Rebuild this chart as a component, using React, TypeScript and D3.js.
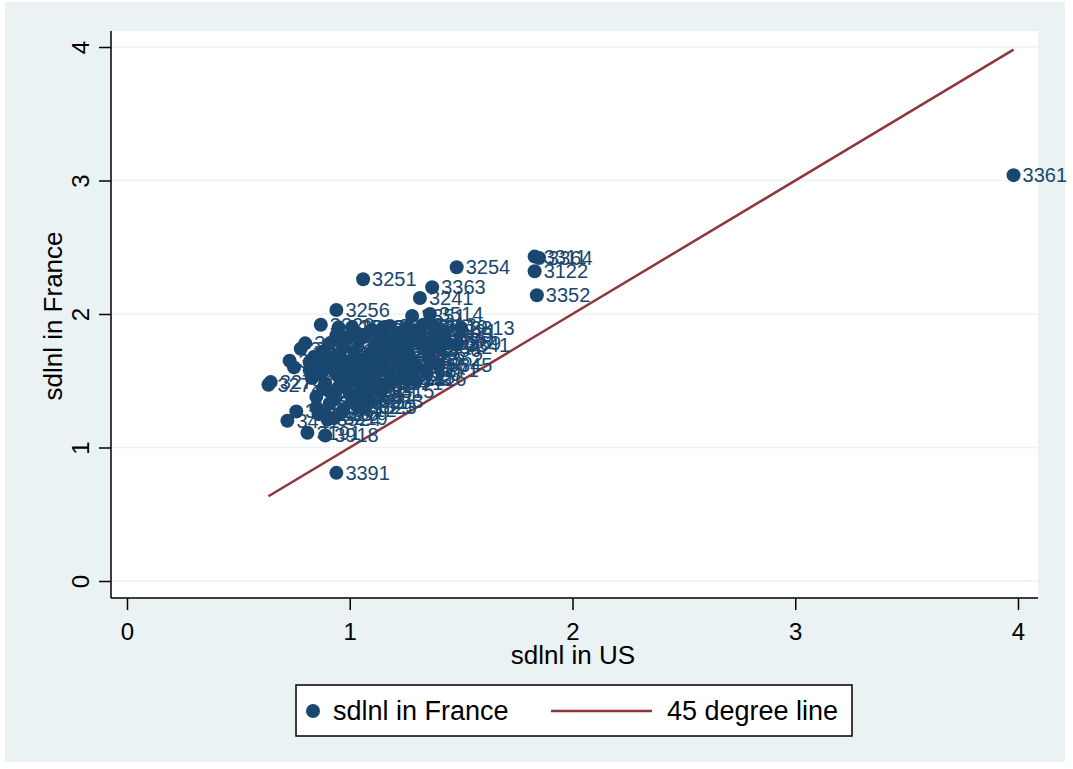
import React from 'react';
import * as d3 from 'd3';

// industry codes, sd of log wages in US and in France
const codes = [
  '3211', '3215', '3212', '3214', '3220', '3259', '3252', '3231', '3242', '3232',
  '3140', '3131', '3132', '3133', '3134', '3111', '3112', '3113', '3114', '3117',
  '3118', '3119', '3121', '3243', '3253', '3255', '3257', '3258', '3261', '3262',
  '3271', '3273', '3275', '3276', '3281', '3282', '3312', '3314', '3315', '3319',
  '3321', '3322', '3323', '3324', '3325', '3326', '3327', '3328', '3331', '3332',
  '3343', '3344', '3345', '3346', '3353', '3354', '3355', '3356', '3359', '3365',
  '3369', '3362', '3845', '3371', '3372', '3381', '3382', '3383', '3384', '3385',
  '3390', '3413', '3421', '3422', '3511', '3512', '3513', '3521', '3522', '3523',
  '3529', '3530', '3540', '3551', '3559', '3560', '3610', '3620', '3691', '3692',
  '3699', '3710', '3720', '3811', '3813', '3819', '3821', '3823', '3213', '3233',
  '3219', '3812', '3419', '3411', '3412', '3115', '3116', '3342', '3272', '3274',
  '3191', '3918', '3524', '3329', '3391', '3256', '3241', '3351', '3514', '3313',
  '3341', '3251', '3363', '3254', '3352', '3122', '3311', '3364', '3361',
];

const sdUS = [
  0.73, 0.75, 0.78, 0.80, 0.87, 0.95, 1.01, 0.82, 0.83, 0.85,
  0.84, 0.86, 0.87, 0.88, 0.88, 0.90, 0.92, 0.94, 0.96, 0.98,
  1.00, 0.89, 0.91, 0.93, 0.95, 0.97, 0.99, 1.01, 1.03, 1.05,
  1.07, 1.09, 1.02, 1.04, 1.06, 1.08, 1.10, 1.12, 1.14, 1.11,
  1.13, 1.15, 1.17, 1.19, 1.16, 1.18, 1.20, 1.22, 1.24, 1.21,
  1.23, 1.25, 1.27, 1.29, 1.26, 1.28, 1.32, 1.35, 1.37, 1.40,
  1.44, 1.36, 1.40, 1.34, 1.01, 1.05, 0.99, 0.96, 0.93, 0.91,
  0.94, 0.98, 1.03, 1.07, 1.12, 1.09, 1.14, 1.18, 1.22, 1.26,
  0.82, 1.00, 1.04, 1.08, 1.12, 1.16, 0.95, 0.89, 1.10, 1.15,
  1.18, 1.22, 1.26, 1.30, 1.33, 1.38, 1.42, 1.06, 0.85, 0.86,
  0.93, 0.97, 0.91, 0.72, 0.76, 1.24, 1.29, 1.40, 0.635, 0.645,
  0.81, 0.89, 0.90, 1.04, 0.94, 0.94, 1.315, 1.28, 1.36, 1.50,
  1.48, 1.06, 1.37, 1.48, 1.84, 1.83, 1.83, 1.85, 3.98,
];

const sdFR = [
  1.65, 1.60, 1.74, 1.78, 1.92, 1.90, 1.90, 1.58, 1.52, 1.38,
  1.68, 1.62, 1.55, 1.44, 1.72, 1.66, 1.60, 1.55, 1.50, 1.45,
  1.40, 1.48, 1.42, 1.36, 1.70, 1.76, 1.64, 1.58, 1.52, 1.46,
  1.40, 1.35, 1.72, 1.80, 1.66, 1.60, 1.54, 1.48, 1.42, 1.75,
  1.69, 1.63, 1.57, 1.51, 1.82, 1.76, 1.70, 1.64, 1.58, 1.80,
  1.76, 1.72, 1.66, 1.62, 1.84, 1.80, 1.78, 1.73, 1.80, 1.84,
  1.78, 1.66, 1.62, 1.58, 1.34, 1.38, 1.56, 1.62, 1.68, 1.78,
  1.84, 1.82, 1.86, 1.84, 1.86, 1.70, 1.58, 1.48, 1.52, 1.55,
  1.64, 1.50, 1.62, 1.50, 1.62, 1.70, 1.45, 1.25, 1.88, 1.90,
  1.91, 1.86, 1.90, 1.88, 1.92, 1.90, 1.87, 1.30, 1.30, 1.25,
  1.22, 1.28, 1.33, 1.20, 1.27, 1.53, 1.51, 1.75, 1.47, 1.49,
  1.11, 1.09, 1.21, 1.30, 0.81, 2.03, 2.12, 1.985, 2.00, 1.895,
  1.77, 2.26, 2.20, 2.35, 2.14, 2.32, 2.43, 2.42, 3.04,
];

const xTicks = [0, 1, 2, 3, 4];
const yTicks = [0, 1, 2, 3, 4];

const navy = '#1a476f';
const maroon = '#90353b';
const bg = '#eaf2f3';
const font = '"Liberation Sans", Arial, Helvetica, sans-serif';

class App extends React.Component {
  constructor(props) {
    super(props);
    this.myRef = React.createRef();
  }

  componentDidMount() {
    const width = 1073;
    const height = 769;
    const svg = d3
      .select(this.myRef.current)
      .append('svg')
      .attr('width', width)
      .attr('height', height)
      .style('position', 'absolute')
      .style('left', 0)
      .style('top', 0)
      .style('font-family', font);

    svg.append('rect').attr('width', width).attr('height', height).attr('fill', '#fff');
    svg.append('rect').attr('x', 5).attr('y', 2).attr('width', 1060).attr('height', 760).attr('fill', bg);

    const left = 111;
    const right = 1038;
    const top = 31;
    const bottom = 598;
    svg.append('rect')
      .attr('x', left).attr('y', top)
      .attr('width', right - left).attr('height', bottom - top)
      .attr('fill', '#fff');

    const x = d3.scaleLinear().domain([0, 4]).range([127, 1018]);
    const y = d3.scaleLinear().domain([0, 4]).range([581, 47]);

    // gridlines
    svg.append('g')
      .selectAll('line')
      .data(yTicks)
      .enter()
      .append('line')
      .attr('x1', left).attr('x2', right)
      .attr('y1', (d) => y(d)).attr('y2', (d) => y(d))
      .style('stroke', bg)
      .style('stroke-width', 1.5);

    // 45 degree line over the range of US values
    const ext = d3.extent(sdUS);
    svg.append('line')
      .attr('x1', x(ext[0])).attr('y1', y(ext[0]))
      .attr('x2', x(ext[1])).attr('y2', y(ext[1]))
      .style('stroke', maroon)
      .style('stroke-width', 2.5);

    // points with labels
    const pts = svg.append('g');
    codes.forEach((c, i) => {
      const px = x(sdUS[i]);
      const py = y(sdFR[i]);
      pts.append('circle').attr('cx', px).attr('cy', py).attr('r', 7).style('fill', navy);
      pts.append('text')
        .attr('x', px + 9).attr('y', py + 7)
        .text(c)
        .style('font-size', '20px')
        .style('fill', navy);
    });

    // axes
    const yAxis = svg.append('g')
      .attr('transform', `translate(${left},0)`)
      .call(d3.axisLeft(y).tickValues(yTicks).tickSize(12).tickSizeOuter(0).tickFormat(d3.format('d')));
    yAxis.select('.domain').attr('d', `M0,${top}V${bottom}`).style('stroke', '#000').style('stroke-width', 1.5);
    yAxis.selectAll('.tick line').style('stroke', '#000').style('stroke-width', 1.5);
    yAxis.selectAll('.tick text')
      .attr('transform', 'rotate(-90)')
      .attr('x', 0).attr('y', -22).attr('dy', 0)
      .style('text-anchor', 'middle')
      .style('font-size', '24px')
      .style('font-family', font)
      .style('fill', '#000');

    const xAxis = svg.append('g')
      .attr('transform', `translate(0,${bottom})`)
      .call(d3.axisBottom(x).tickValues(xTicks).tickSize(12).tickSizeOuter(0).tickFormat(d3.format('d')));
    xAxis.select('.domain').attr('d', `M${left},0H${right}`).style('stroke', '#000').style('stroke-width', 1.5);
    xAxis.selectAll('.tick line').style('stroke', '#000').style('stroke-width', 1.5);
    xAxis.selectAll('.tick text')
      .attr('y', 42).attr('dy', 0)
      .style('font-size', '24px')
      .style('font-family', font)
      .style('fill', '#000');

    // axis titles
    svg.append('text')
      .attr('x', 573).attr('y', 664)
      .text('sdlnl in US')
      .style('text-anchor', 'middle')
      .style('font-size', '26px');
    svg.append('text')
      .attr('transform', 'translate(62,316) rotate(-90)')
      .text('sdlnl in France')
      .style('text-anchor', 'middle')
      .style('font-size', '26px');

    // legend
    const lg = svg.append('g');
    lg.append('rect')
      .attr('x', 296).attr('y', 685).attr('width', 556).attr('height', 51)
      .style('fill', '#fff').style('stroke', '#000').style('stroke-width', 1.5);
    lg.append('circle').attr('cx', 313).attr('cy', 711).attr('r', 7).style('fill', navy);
    lg.append('text').attr('x', 333).attr('y', 720).text('sdlnl in France').style('font-size', '27px');
    lg.append('line')
      .attr('x1', 551).attr('x2', 652).attr('y1', 711).attr('y2', 711)
      .style('stroke', maroon).style('stroke-width', 2.5);
    lg.append('text').attr('x', 667).attr('y', 720).text('45 degree line').style('font-size', '27px');
  }

  render() {
    return <div ref={this.myRef}></div>;
  }
}

export default App;
